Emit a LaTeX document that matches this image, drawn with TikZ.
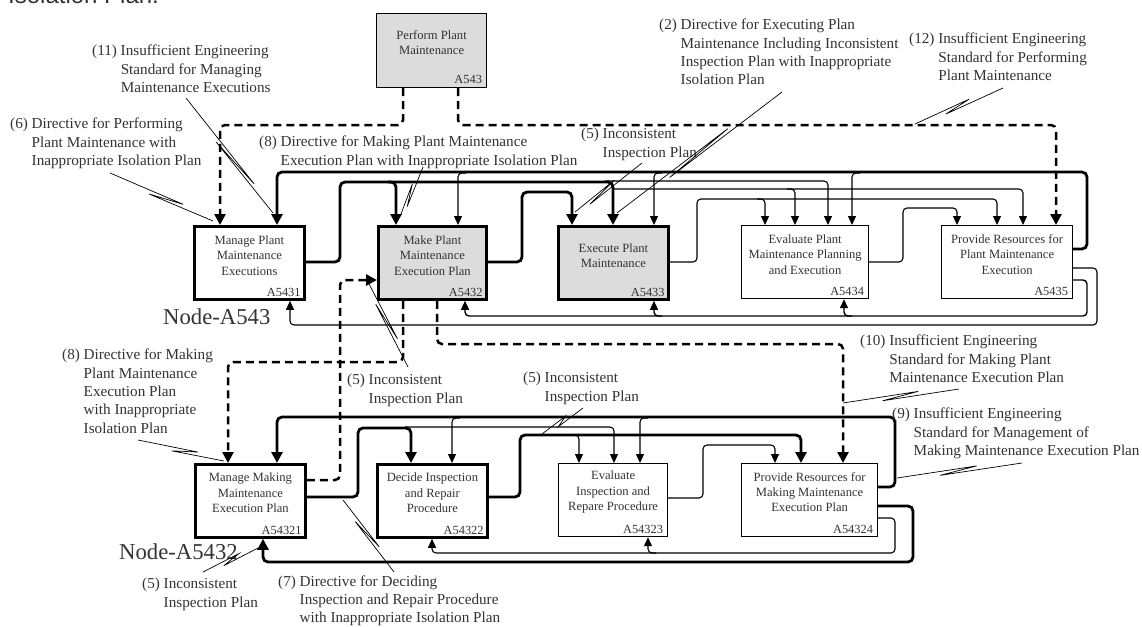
\documentclass[tikz,border=0pt]{standalone}
\usepackage{fontspec}
\setmainfont{Liberation Serif}
\newfontfamily\sansf{Liberation Sans}
\usetikzlibrary{arrows.meta,calc}
\definecolor{txt}{HTML}{333333}
\definecolor{boxgray}{HTML}{DCDCDC}
\tikzset{
 boxthin/.style={draw, line width=1.2pt, fill=white, minimum height=73pt, anchor=north west, inner sep=0pt},
 boxthick/.style={boxthin, line width=2.8pt},
 gfill/.style={fill=boxgray},
 btxt/.style={text=txt, font=\fontsize{12.6pt}{15.3pt}\selectfont, align=center, inner sep=0pt},
 bnum/.style={text=txt, font=\fontsize{12.4pt}{15pt}\selectfont, anchor=base east, inner sep=0pt},
 lbl/.style={text=txt, font=\fontsize{15.2pt}{18.3pt}\selectfont, align=left, anchor=north west, inner sep=0pt},
 nodelbl/.style={text=txt, font=\fontsize{22.7pt}{26pt}\selectfont, anchor=base west, inner sep=0pt},
 thk/.style={line width=2.8pt, rounded corners=5pt},
 thn/.style={line width=1.1pt, rounded corners=4pt},
 midl/.style={line width=1.4pt, rounded corners=4pt},
 dsh/.style={line width=2.5pt, dash pattern=on 8pt off 5pt, rounded corners=5pt},
 tA/.style={-{Triangle[length=11pt,width=11pt]}},
 nA/.style={-{Triangle[length=9pt,width=8pt]}},
 leader/.style={line width=0.7pt},
}
\newcommand{\ldr}[4]{\draw[leader] (#1) -- ($(#1)!#3!(#2)!2.5pt!90:(#2)$) -- ($(#1)!#4!(#2)!2.5pt!-90:(#2)$) -- (#2);}
\begin{document}
\begin{tikzpicture}[x=1pt,y=-1pt]
\useasboundingbox (0,0) rectangle (1142,626);
\fill[white] (0,0) rectangle (1142,626);

\node[anchor=base west, font=\sansf\fontsize{24pt}{28pt}\selectfont, text=txt, inner sep=0pt] (cap) at (8,4) {Isolation Plan.};

% boxes
\node[boxthin, gfill, minimum width=110pt, minimum height=74pt] (p) at (376,13) {};
\node[boxthick, minimum width=110pt] (a1) at (193,225) {};
\node[boxthick, gfill, minimum width=108pt] (a2) at (377,225) {};
\node[boxthick, gfill, minimum width=110pt] (a3) at (557,225) {};
\node[boxthin, minimum width=127pt] (a4) at (741,225) {};
\node[boxthin, minimum width=131pt] (a5) at (941,225) {};
\node[boxthick, minimum width=110pt] (b1) at (194,463) {};
\node[boxthick, minimum width=110pt] (b2) at (376,463) {};
\node[boxthin, minimum width=109pt] (b3) at (558,463) {};
\node[boxthin, minimum width=136pt] (b4) at (741,463) {};

% box texts
\node[btxt] (pt) at ([yshift=8pt]p.center) {Perform Plant\\Maintenance};
\node[bnum] (pn) at ([xshift=-5pt,yshift=4.5pt]p.south east) {A543};
\node[btxt] (a1t) at ([yshift=7.5pt]a1.center) {Manage Plant\\Maintenance\\Executions};
\node[bnum] (a1n) at ([xshift=-5pt,yshift=4pt]a1.south east) {A5431};
\node[btxt] (a2t) at ([yshift=7.5pt]a2.center) {Make Plant\\Maintenance\\Execution Plan};
\node[bnum] (a2n) at ([xshift=-5pt,yshift=4pt]a2.south east) {A5432};
\node[btxt] (a3t) at ([yshift=7.5pt]a3.center) {Execute Plant\\Maintenance};
\node[bnum] (a3n) at ([xshift=-5pt,yshift=4pt]a3.south east) {A5433};
\node[btxt] (a4t) at ([yshift=7.5pt]a4.center) {Evaluate Plant\\Maintenance Planning\\and Execution};
\node[bnum] (a4n) at ([xshift=-5pt,yshift=4pt]a4.south east) {A5434};
\node[btxt] (a5t) at ([yshift=7.5pt]a5.center) {Provide Resources for\\Plant Maintenance\\Execution};
\node[bnum] (a5n) at ([xshift=-5pt,yshift=4pt]a5.south east) {A5435};
\node[btxt] (b1t) at ([yshift=8pt]b1.center) {Manage Making\\Maintenance\\Execution Plan};
\node[bnum] (b1n) at ([xshift=-5pt,yshift=4pt]b1.south east) {A54321};
\node[btxt] (b2t) at ([yshift=8pt]b2.center) {Decide Inspection\\and Repair\\Procedure};
\node[bnum] (b2n) at ([xshift=-5pt,yshift=4pt]b2.south east) {A54322};
\node[btxt] (b3t) at ([yshift=8pt]b3.center) {Evaluate\\Inspection and\\Repare Procedure};
\node[bnum] (b3n) at ([xshift=-5pt,yshift=4pt]b3.south east) {A54323};
\node[btxt] (b4t) at ([yshift=8pt]b4.center) {Provide Resources for\\Making Maintenance\\Execution Plan};
\node[bnum] (b4n) at ([xshift=-5pt,yshift=4pt]b4.south east) {A54324};

\node[nodelbl] (n1) at (163,324.5) {Node-A543};
\node[nodelbl] (n2) at (119,559.5) {Node-A5432};

% top dashed
\draw[dsh,tA] (p.south -| 403,0) -- (403,125) -- (220,125) -- (a1.north -| 220,0);
\draw[dsh,tA] (p.south -| 458,0) -- (458,125) -- (1056,125) -- (a5.north -| 1056,0);

% A5435 thick loop
\draw[thk,tA] (a5.east |- 0,249) -- (1087,249) -- (1087,172) -- (277,172) -- (a1.north -| 277,0);
\draw[thn,nA] (466,173) -- (458,173) -- (a2.north -| 458,0);
\draw[thn,nA] (662,173) -- (654,173) -- (a3.north -| 654,0);
\draw[thn,nA] (860,173) -- (852,173) -- (a4.north -| 852,0);

% A5431 output
\draw[thk,tA] (a1.east |- 0,262) -- (340,262) -- (340,182) -- (613,182) -- (a3.north -| 613,0);
\draw[thk,tA] (388,182) -- (396,182) -- (a2.north -| 396,0);
\draw[thn,nA] (605,181) -- (828,181) -- (a4.north -| 828,0);
\draw[thn,nA] (613,189) -- (1023,189) -- (a5.north -| 1023,0);
\draw[thn,nA] (787,189) -- (795,189) -- (a4.north -| 795,0);

% A5432 output
\draw[thk,tA] (a2.east |- 0,262) -- (522,262) -- (522,192) -- (572,192) -- (a3.north -| 572,0);

% A5433 output
\draw[thn,nA] (a3.east |- 0,262) -- (697,262) -- (697,199) -- (997,199) -- (a5.north -| 997,0);
\draw[thn,nA] (757,199) -- (765,199) -- (a4.north -| 765,0);

% A5434 output
\draw[thn,nA] (a4.east |- 0,262) -- (903,262) -- (903,208) -- (957,208) -- (a5.north -| 957,0);

% A5435 feedback
\draw[thn,nA] (a5.east |- 0,268) -- (1097,268) -- (1097,325) -- (290,325) -- (a1.south -| 290,0);
\draw[midl,nA] (a5.east |- 0,280) -- (1087,280) -- (1087,316) -- (465,316) -- (a2.south -| 465,0);
\draw[midl,nA] (662,316) -- (654,316) -- (a3.south -| 654,0);
\draw[midl,nA] (852,316) -- (844,316) -- (a4.south -| 844,0);

% dashed between levels
\draw[dsh,tA] (a2.south -| 403,0) -- (403,362) -- (228,362) -- (b1.north -| 228,0);
\draw[dsh,tA] (a2.south -| 437,0) -- (437,344) -- (843,344) -- (b4.north -| 843,0);
\draw[dsh,tA] (b1.east |- 0,480) -- (340,480) -- (340,280) -- (a2.west |- 0,280);

% bottom level
\draw[thk,tA] (b4.east |- 0,487) -- (895,487) -- (895,417) -- (277,417) -- (b1.north -| 277,0);
\draw[thn,nA] (460,418) -- (452,418) -- (b2.north -| 452,0);
\draw[thn,nA] (648,418) -- (640,418) -- (b3.north -| 640,0);
\draw[thk,tA] (b1.east |- 0,497) -- (358,497) -- (358,428) -- (411,428) -- (b2.north -| 411,0);
\draw[thn,nA] (405,427) -- (614,427) -- (b3.north -| 614,0);
\draw[thk,tA] (b2.east |- 0,497) -- (520,497) -- (520,435) -- (801,435) -- (b4.north -| 801,0);
\draw[thn,nA] (571,435) -- (579,435) -- (b3.north -| 579,0);
\draw[thn,nA] (b3.east |- 0,498) -- (703,498) -- (703,445) -- (775,445) -- (b4.north -| 775,0);
\draw[thk,tA] (b4.east |- 0,506) -- (913,506) -- (913,562) -- (263,562) -- (b1.south -| 263,0);
\draw[thn,nA] (b4.east |- 0,518) -- (895,518) -- (895,553) -- (432,553) -- (b2.south -| 432,0);
\draw[thn,nA] (656,553) -- (648,553) -- (b3.south -| 648,0);

% labels
\node[lbl] (l11) at (92,45) {(11) Insufficient Engineering\\\hphantom{(11) }Standard for Managing\\\hphantom{(11) }Maintenance Executions};
\node[lbl] (l6) at (10,118) {(6) Directive for Performing\\\hphantom{(6) }Plant Maintenance with\\\hphantom{(6) }Inappropriate Isolation Plan};
\node[lbl] (l8t) at (259,136) {(8) Directive for Making Plant Maintenance\\\hphantom{(8) }Execution Plan with Inappropriate Isolation Plan};
\node[lbl] (l5t) at (581,128) {(5) Inconsistent\\\hphantom{(5) }Inspection Plan};
\node[lbl] (l2) at (659,19) {(2) Directive for Executing Plan\\\hphantom{(2) }Maintenance Including Inconsistent\\\hphantom{(2) }Inspection Plan with Inappropriate\\\hphantom{(2) }Isolation Plan};
\node[lbl] (l12) at (909,33) {(12) Insufficient Engineering\\\hphantom{(12) }Standard for Performing\\\hphantom{(12) }Plant Maintenance};
\node[lbl] (l5ml) at (347,374) {(5) Inconsistent\\\hphantom{(5) }Inspection Plan};
\node[lbl] (l5mr) at (523,372) {(5) Inconsistent\\\hphantom{(5) }Inspection Plan};
\node[lbl] (l10) at (860,335) {(10) Insufficient Engineering\\\hphantom{(10) }Standard for Making Plant\\\hphantom{(10) }Maintenance Execution Plan};
\node[lbl] (l9) at (892,408) {(9) Insufficient Engineering\\\hphantom{(9) }Standard for Management of\\\hphantom{(9) }Making Maintenance Execution Plan};
\node[lbl] (l8l) at (62,349) {(8) Directive for Making\\\hphantom{(8) }Plant Maintenance\\\hphantom{(8) }Execution Plan\\\hphantom{(8) }with Inappropriate\\\hphantom{(8) }Isolation Plan};
\node[lbl] (l5bl) at (142,578) {(5) Inconsistent\\\hphantom{(5) }Inspection Plan};
\node[lbl, font=\fontsize{15.2pt}{17.8pt}\selectfont] (l7) at (278,576) {(7) Directive for Deciding\\\hphantom{(7) }Inspection and Repair Procedure\\\hphantom{(7) }with Inappropriate Isolation Plan};

% leader coordinates
\coordinate (s11) at (186,98);   \coordinate (e11) at (273,213);
\coordinate (s6) at (110,173);   \coordinate (e6) at (213,221);
\coordinate (s8t) at (423,167);  \coordinate (e8t) at (401,214);
\coordinate (s5t) at (642,163);  \coordinate (e5t) at (575,212);
\coordinate (s2) at (782,92);    \coordinate (e2) at (617,213);
\coordinate (s12) at (1003,88);  \coordinate (e12) at (915,124);
\coordinate (s5ml) at (408,367); \coordinate (e5ml) at (368,282);
\coordinate (s5mr) at (583,408); \coordinate (e5mr) at (542,434);
\coordinate (s10) at (959,389);  \coordinate (e10) at (843,403);
\coordinate (s9) at (1022,463);  \coordinate (e9) at (897,478);
\coordinate (s8l) at (138,440);  \coordinate (e8l) at (224,461);
\coordinate (s5bl) at (203,572); \coordinate (e5bl) at (258,548);
\coordinate (s7) at (394,572);   \coordinate (e7) at (343,500);

\ldr{s11}{e11}{0.76}{0.37}
\ldr{s6}{e6}{0.70}{0.39}
\ldr{s8t}{e8t}{0.82}{0.38}
\ldr{s5t}{e5t}{0.80}{0.39}
\ldr{s2}{e2}{0.69}{0.32}
\ldr{s12}{e12}{0.66}{0.375}
\ldr{s5ml}{e5ml}{0.75}{0.32}
\ldr{s5mr}{e5mr}{0.63}{0.39}
\ldr{s10}{e10}{0.66}{0.35}
\ldr{s9}{e9}{0.66}{0.36}
\ldr{s8l}{e8l}{0.69}{0.40}
\ldr{s5bl}{e5bl}{0.67}{0.36}
\ldr{s7}{e7}{0.72}{0.33}
\end{tikzpicture}
\end{document}
